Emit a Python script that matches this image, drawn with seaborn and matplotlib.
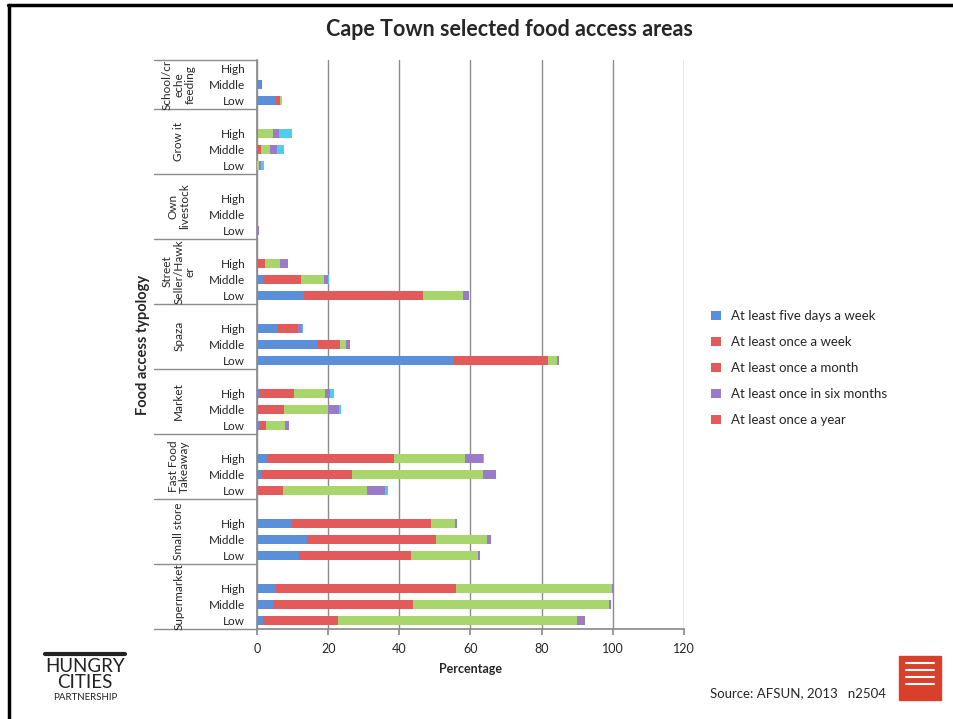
import pandas as pd
import seaborn as sns
import numpy as np
import matplotlib.pyplot as plt
from matplotlib.patches import Patch, Rectangle
from matplotlib.lines import Line2D
import matplotlib.transforms as mtransforms

# food access types, top to bottom, and income levels within each
groups = ['School/creche feeding', 'Grow it', 'Own livestock', 'Street Seller/Hawker',
          'Spaza', 'Market', 'Fast Food Takeaway', 'Small store', 'Supermarket']
group_labels = ['School/cr\neche\nfeeding', 'Grow it', 'Own\nlivestock', 'Street\nSeller/Hawk\ner',
                'Spaza', 'Market', 'Fast Food\nTakeaway', 'Small store', 'Supermarket']
levels = ['High', 'Middle', 'Low']

series = ['At least five days a week', 'At least once a week', 'At least once a month',
          'At least once in six months', 'At least once a year']

# percentages per row (group order, then High/Middle/Low)
five_days = [0, 1.0, 5.3,  0, 0, 0,  0, 0, 0,  0, 1.6, 13.2,  6.0, 16.8, 55.4,
             0.8, 0.3, 0.8,  2.7, 1.0, 0.2,  9.7, 14.0, 11.8,  5.3, 4.6, 1.6]
once_week = [0, 0.3, 1.1,  0.4, 1.1, 0.1,  0, 0, 0,  2.2, 10.7, 33.5,  5.6, 6.5, 26.4,
             9.6, 7.4, 1.7,  35.8, 25.6, 7.2,  39.2, 36.3, 31.5,  50.5, 39.2, 21.1]
once_month = [0, 0, 0.7,  4.0, 2.6, 0.6,  0, 0, 0,  4.3, 6.5, 11.1,  0, 1.7, 2.5,
              8.7, 12.3, 5.4,  20.0, 37.0, 23.4,  6.7, 14.4, 18.7,  43.9, 55.2, 67.1]
six_months = [0, 0, 0,  1.9, 1.8, 0.3,  0, 0, 0.5,  2.3, 1.2, 1.8,  1.0, 1.0, 0.5,
              1.4, 3.1, 1.2,  4.9, 3.5, 5.2,  0.5, 1.0, 0.7,  0.5, 0.4, 2.4]
once_year = [0, 0, 0,  3.4, 2.2, 1.1,  0, 0, 0,  0, 0.2, 0,  0.4, 0, 0,
             1.2, 0.4, 0,  0.5, 0, 0.7,  0, 0, 0,  0, 0, 0]

bar_colors = ['#5b8fd9', '#e25a5a', '#a9d66c', '#9a7bc7', '#4fcdea']
legend_colors = ['#5b8fd9', '#e25a5a', '#e25a5a', '#9a7bc7', '#e25a5a']

rows = [f'{g}|{l}' for g in groups for l in levels]
order = []
for i, g in enumerate(groups):
    if i > 0:
        order.append(f'gap{i}')
    order += [f'{g}|{l}' for l in levels]

df = pd.DataFrame({'row': rows, 's0': five_days, 's1': once_week, 's2': once_month,
                   's3': six_months, 's4': once_year})
cum = df[['s0', 's1', 's2', 's3', 's4']].cumsum(axis=1)
cum['row'] = df['row']

sns.set_theme(style='white')
plt.rcParams['font.family'] = ['Lato', 'DejaVu Sans']

fig = plt.figure(figsize=(9.54, 7.19), dpi=100)
ax = fig.add_axes([257 / 954, 1 - 629 / 719, 427 / 954, 569 / 719])

# stacked bars: draw longest cumulative first
for k in range(4, -1, -1):
    sns.barplot(data=cum, x=f's{k}', y='row', order=order, orient='h', color=bar_colors[k],
                saturation=1, width=0.55, errorbar=None, ax=ax, zorder=3, linewidth=0)

ax.set_xlim(0, 120)
ax.set_xticks(range(0, 121, 20))
ax.grid(axis='x', color='#8c8c8c', lw=1, zorder=0)
ax.grid(axis='y', visible=False)
for s in ['top', 'right']:
    ax.spines[s].set_visible(False)
for s in ['left', 'bottom']:
    ax.spines[s].set_color('#8c8c8c')
ax.tick_params(axis='x', bottom=True, length=4, color='#8c8c8c', labelsize=9, pad=6)

ticklabels = [o.split('|')[1] if '|' in o else '' for o in order]
ax.set_yticks(range(len(order)))
ax.set_yticklabels(ticklabels)
ax.tick_params(axis='y', length=0, labelsize=8.5, pad=8.5)
ax.set_ylim(len(order) - 0.5, -0.5)

ax.set_xlabel('Percentage', fontsize=9, fontweight='bold', labelpad=6)
ax.set_ylabel('')
fig.text(143 / 954, 1 - 345 / 719, 'Food access typology', rotation=90, fontsize=10.5,
         fontweight='bold', ha='center', va='center')

# group labels and separators
trans = mtransforms.blended_transform_factory(ax.transAxes, ax.transData)
bounds = [-0.5] + [g * 4 + 2.5 for g in range(8)] + [len(order) - 0.5]
for y in bounds:
    ax.add_line(Line2D([-0.242, 0], [y, y], transform=trans, color='#8c8c8c', lw=1, clip_on=False))
for i, lab in enumerate(group_labels):
    top = bounds[i]
    bot = bounds[i + 1]
    ax.text(-0.183, (top + bot) / 2, lab, transform=trans, rotation=90, ha='center', va='center',
            fontsize=8.5, linespacing=1.05, multialignment='center')

fig.text(509 / 954, 1 - 30 / 719, 'Cape Town selected food access areas', ha='center', va='center',
         fontsize=15.5, fontweight='bold')

handles = [Patch(facecolor=c, edgecolor='none') for c in legend_colors]
fig.legend(handles, series, loc='upper left', bbox_to_anchor=(706 / 954, 1 - 305 / 719),
           frameon=False, fontsize=9.5, handlelength=0.7, handleheight=0.7, handletextpad=0.8,
           labelspacing=1.06, borderaxespad=0)

fig.text(710 / 954, 1 - 693 / 719, 'Source: AFSUN, 2013   n2504', ha='left', va='center', fontsize=9.5)

# slide frame
fig.add_artist(Line2D([9 / 954, 9 / 954], [0, 1 - 5 / 719], color='black', lw=2.5))
fig.add_artist(Line2D([8 / 954, 1], [1 - 5 / 719, 1 - 5 / 719], color='black', lw=2.5))

# logos
fig.add_artist(Line2D([45 / 954, 125 / 954], [1 - 654 / 719, 1 - 654 / 719], color='#222222', lw=3))
fig.text(85 / 954, 1 - 667 / 719, 'HUNGRY', ha='center', va='center', fontsize=13.5, color='#222222')
fig.text(85 / 954, 1 - 683 / 719, 'CITIES', ha='center', va='center', fontsize=13.5, color='#222222')
fig.text(85 / 954, 1 - 697 / 719, 'PARTNERSHIP', ha='center', va='center', fontsize=7, color='#222222')
fig.add_artist(Rectangle((899 / 954, 1 - 700 / 719), 42 / 954, 44 / 719, color='#d9402b'))
for yy in [663, 670, 677, 684]:
    fig.add_artist(Line2D([906 / 954, 934 / 954], [1 - yy / 719, 1 - yy / 719], color='white', lw=1.5))

fig.savefig('out.png', dpi=100)
